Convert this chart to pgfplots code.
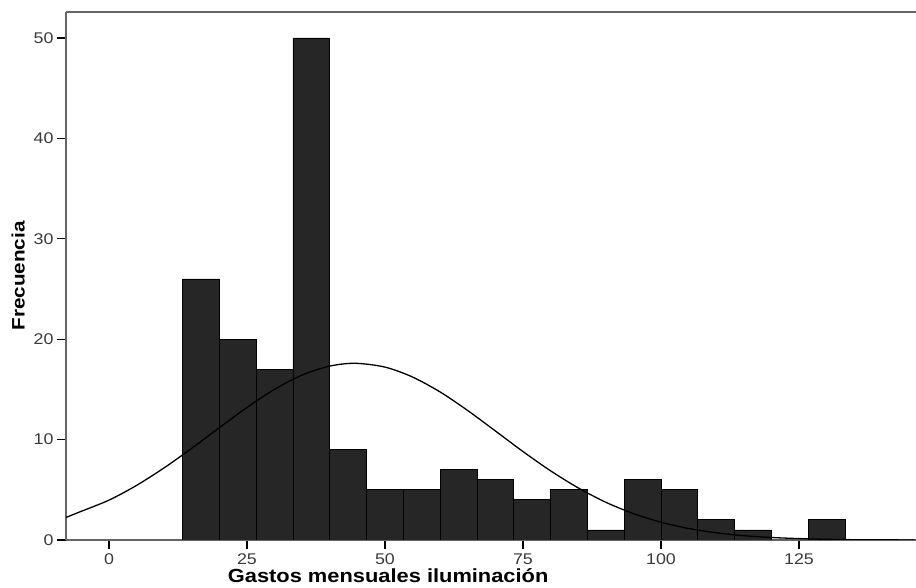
\documentclass[border=0pt]{standalone}
\usepackage{pgfplots}
\pgfplotsset{compat=1.18}
\usepackage{fontspec}
\setmainfont{Liberation Sans}[FakeStretch=1.15]
\definecolor{barfill}{HTML}{262626}
\definecolor{ticktext}{HTML}{3A3A3A}
\definecolor{frame}{HTML}{666666}
\begin{document}
\begin{tikzpicture}
\begin{axis}[
  at={(0,0)}, anchor=south west,
  scale only axis,
  width=850pt, height=528pt,
  xmin=-7.79, xmax=146.2,
  ymin=0, ymax=52.59,
  axis x line*=box,
  axis y line*=left,
  xtick pos=bottom,
  xtick={0,25,50,75,100,125},
  ytick={0,10,20,30,40,50},
  tick align=outside,
  major tick length=9pt,
  tick style={black, line width=1.2pt},
  axis line style={frame, line width=1.3pt},
  /pgf/number format/assume math mode=true,
  ticklabel style={font=\fontsize{15.5}{17}\selectfont, text=ticktext},
  xticklabel style={yshift=-1pt},
  xlabel={Gastos mensuales iluminación},
  ylabel={Frecuencia},
  xlabel style={font=\fontsize{19}{21}\selectfont\bfseries, at={(axis description cs:0.379,0)}, anchor=north, yshift=-25pt},
  ylabel style={font=\fontsize{18}{20}\selectfont\bfseries, yshift=2pt},
  clip=true,
]
\addplot[ybar interval, fill=barfill, draw=black, line width=0.9pt] coordinates {
  (13.333,26) (20,20) (26.667,17) (33.333,50) (40,9) (46.667,5)
  (53.333,5) (60,7) (66.667,6) (73.333,4) (80,5) (86.667,1)
  (93.333,6) (100,5) (106.667,2) (113.333,1) (120,0) (126.667,2)
  (133.333,2)
};
\addplot[black, line width=1.3pt, smooth, no marks] coordinates {
  (-8,2.20) (-5,2.86) (0,3.97) (5,5.44) (10,7.19) (15,9.14) (20,11.19)
  (25,13.20) (30,15.01) (35,16.43) (40,17.32) (44.6,17.60) (50,17.22)
  (55,16.23) (60,14.74) (65,12.89) (70,10.86) (75,8.81) (80,6.89)
  (85,5.19) (90,3.76) (95,2.63) (100,1.77) (105,1.15) (110,0.72)
  (115,0.43) (120,0.25) (125,0.14) (130,0.07) (135,0.03) (140,0.015) (146,0.005)
};
\end{axis}
\pgfresetboundingbox
\path[use as bounding box] (-66pt,-48pt) rectangle (850pt,540pt);
\end{tikzpicture}
\end{document}
